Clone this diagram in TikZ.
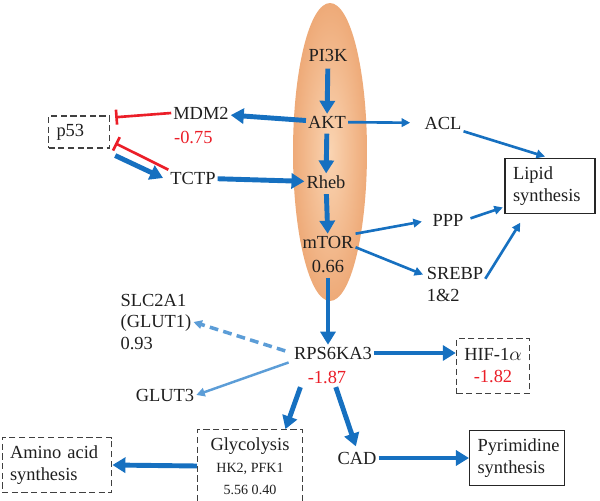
\documentclass[tikz,border=0pt]{standalone}
\usepackage{fontspec}
\setmainfont{Liberation Serif}
\usetikzlibrary{arrows.meta}
\definecolor{pathblue}{RGB}{22,112,192}
\definecolor{lightpath}{RGB}{92,157,215}
\definecolor{inhibred}{RGB}{235,30,40}
\definecolor{capsulein}{RGB}{250,212,178}
\definecolor{capsuleout}{RGB}{238,170,120}
\newcommand{\smalltext}{\fontsize{8}{10.5}\selectfont}
\tikzset{
    gene/.style = {
        inner sep = 1pt,
        text      = black!88,
        font      = \fontsize{10.5}{12.5}\selectfont,
    },
    value/.style = {
        gene,
        text = inhibred,
    },
    dashbox/.style = {
        gene,
        draw          = black!75,
        dash pattern  = on 3.5pt off 2pt,
        line width    = 0.6pt,
        inner sep     = 4.5pt,
    },
    solidbox/.style = {
        gene,
        draw       = black!85,
        line width = 0.7pt,
        inner sep  = 4.5pt,
    },
    bigarrow/.style = {
        draw       = pathblue,
        line width = 2.8pt,
        -{Triangle[length=0.26cm,width=0.3cm]},
    },
    thinarrow/.style = {
        draw       = pathblue,
        line width = 1.5pt,
        -{Triangle[length=0.17cm,width=0.17cm]},
    },
    inhibit/.style = {
        draw       = inhibred,
        line width = 1.5pt,
        -{Bar[width=0.3cm]},
    },
}
\begin{document}
\begin{tikzpicture}[x=0.02cm,y=-0.02cm]
  \useasboundingbox (0,0) rectangle (600,501);

  % Capsule
  \shade[inner color=capsulein,outer color=capsuleout] (330,152) ellipse [x radius=0.74cm, y radius=2.98cm];

  % Axis
  \node[gene] (PIK) at (328,55) {PI3K};
  \node[gene] (AKT) at (327,122) {AKT};
  \node[gene] (Rheb) at (326,182) {Rheb};
  \node[gene] (mTOR) at (328,242) {mTOR};
  \node[gene] (mTORval) at (328,266) {0.66};

  \draw[bigarrow,shorten <=3pt] (PIK) to (AKT);
  \draw[bigarrow,shorten <=2pt] (AKT) to (Rheb);
  \draw[bigarrow,shorten <=2pt] (Rheb) to (mTOR);

  % p53 side
  \node[gene] (MDM2) at (201,113) {MDM2};
  \node[value,anchor=west] (MDM2val) at (172,137) {-0.75};
  \node[gene] (TCTP) at (193,178) {TCTP};
  \node[dashbox,text width=0.9cm,align=left,minimum height=0.62cm] (p53) at (79,132) {p53};

  \draw[bigarrow] (AKT) to (MDM2);
  \draw[bigarrow] (TCTP) to (Rheb);
  \draw[bigarrow] ([xshift=3pt,yshift=-4pt]p53.south east) to ([xshift=-3pt]TCTP.west);
  \draw[inhibit] (MDM2.west) to ([xshift=3pt,yshift=-1pt]p53.north east);
  \draw[inhibit] (TCTP.north west) to ([xshift=3pt,yshift=3pt]p53.south east);

  % Lipid side
  \node[gene] (ACL) at (443,123) {ACL};
  \node[gene] (PPP) at (448,220) {PPP};
  \node[gene,align=left] (SREBP) at (455,284) {SREBP\\1\&2};
  \node[solidbox,text width=1.48cm,align=left,minimum height=1.08cm] (Lipid) at (550,186) {Lipid\\synthesis};

  \draw[thinarrow,shorten >=7pt] (AKT) to (ACL);
  \draw[thinarrow,shorten >=3pt] (ACL.south east) to (Lipid.north);
  \draw[thinarrow,shorten >=5pt] (mTOR.north east) to (PPP.west);
  \draw[thinarrow,shorten >=1pt] ([yshift=-3pt]mTOR.east) to ([yshift=5pt]SREBP.west);
  \draw[thinarrow,shorten <=3pt,shorten >=1pt] (PPP.east) to ([yshift=4pt]Lipid.south west);
  \draw[thinarrow] ([yshift=-8pt]SREBP.north east) to ([xshift=9pt,yshift=-5pt]Lipid.south west);

  % RPS6KA3
  \node[gene] (RPS) at (333,353) {RPS6KA3};
  \node[value] (RPSval) at (327,377) {-1.87};
  \node[gene,align=left] (GLUT1) at (156,322) {SLC2A1\\(GLUT1)\\0.93};
  \node[gene] (GLUT3) at (165,395) {GLUT3};
  \node[dashbox,align=center,minimum width=1.4cm,minimum height=1.1cm] (HIF) at (493,366) {HIF-1$\alpha$\\\textcolor{inhibred}{-1.82}};

  \draw[bigarrow,shorten <=2pt] (mTORval.south) to (mTORval.south |- RPS.north);
  \draw[bigarrow] (RPS.east) to (HIF.west |- RPS.east);
  \draw[draw=lightpath,line width=2pt,dash pattern=on 5pt off 3pt,-{Triangle[length=0.17cm,width=0.17cm]},shorten <=4pt] (RPS.west) to (GLUT1.east);
  \draw[draw=lightpath,line width=1.4pt,-{Triangle[length=0.17cm,width=0.17cm]},shorten <=2pt] (RPS.south west) to (GLUT3.east);

  % Bottom row
  \node[dashbox,align=center,minimum width=2.1cm,minimum height=1.36cm] (Glyco) at (250,466) {Glycolysis\\\smalltext HK2, PFK1\\\smalltext 5.56 0.40};
  \node[gene] (CAD) at (357,458) {CAD};
  \node[solidbox,text width=1.58cm,align=left,minimum height=1.08cm] (Pyr) at (517,458) {Pyrimidine\\synthesis};
  \node[dashbox,text width=1.88cm,align=left,minimum height=1.08cm] (Amino) at (57,465) {Amino acid\\synthesis};

  \draw[bigarrow] ([xshift=-3pt,yshift=-1pt]RPSval.south west) to ([xshift=-10pt]Glyco.north east);
  \draw[bigarrow,shorten >=2pt] ([xshift=5pt,yshift=-1pt]RPSval.south) to (CAD.north);
  \draw[bigarrow] (CAD.east) to (Pyr.west);
  \draw[bigarrow] (Glyco.west) to (Amino.east);

\end{tikzpicture}
\end{document}
